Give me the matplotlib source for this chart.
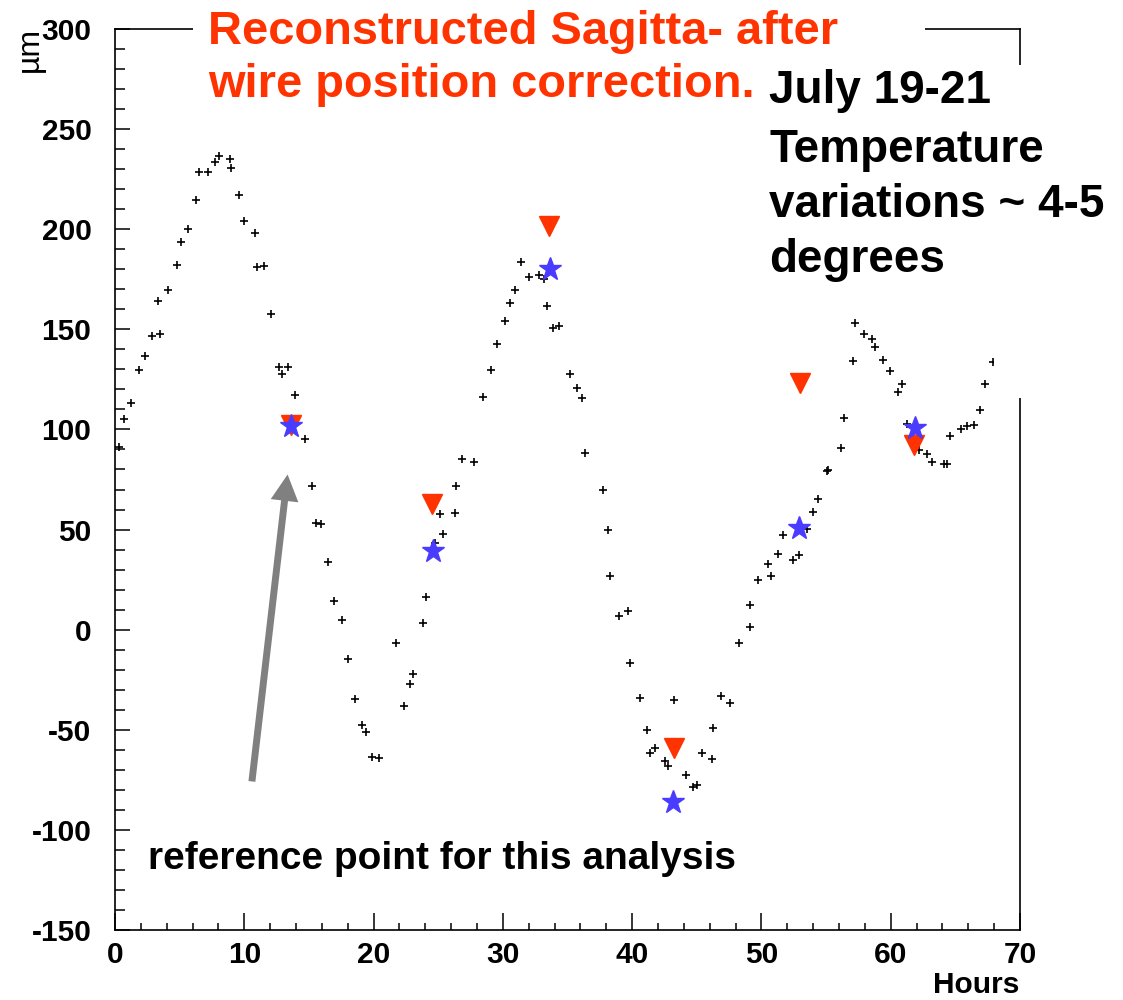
import matplotlib
matplotlib.use("Agg")
import matplotlib.pyplot as plt
from matplotlib.patches import Rectangle
from matplotlib.ticker import MultipleLocator

plt.rcParams['font.family'] = ['Liberation Sans', 'DejaVu Sans']
plt.rcParams['axes.unicode_minus'] = False

# measured sagitta (black crosses)
hours = [0.31, 0.72, 1.24, 1.88, 2.3, 2.89, 3.33, 3.49, 4.11, 4.83, 5.13, 5.68,
         6.3, 6.5, 7.17, 7.77, 8.06, 8.9, 8.98, 9.58, 9.99, 10.8, 10.95, 11.53,
         12.1, 12.7, 12.93, 13.4, 13.9, 14.66, 15.2, 15.56, 15.93, 16.5, 16.93,
         17.58, 18.02, 18.53, 19.1, 19.4, 19.87, 20.4, 21.7, 22.36, 22.8, 23.05,
         23.83, 24.09, 24.79, 25.17, 25.37, 26.26, 26.38, 26.85, 27.73, 28.45,
         29.07, 29.56, 30.18, 30.54, 30.93, 31.42, 31.99, 32.76, 33.17, 33.38,
         33.9, 34.36, 35.19, 35.73, 36.09, 36.38, 37.75, 38.15, 38.31, 38.98,
         39.7, 39.84, 40.64, 41.13, 41.39, 41.8, 42.52, 42.78, 43.27, 44.17,
         44.74, 45.05, 45.44, 46.19, 46.27, 46.86, 47.56, 48.28, 49.1, 49.13,
         49.75, 50.47, 50.73, 51.28, 51.69, 52.41, 52.9, 53.52, 53.96, 54.35,
         55.04, 55.12, 56.16, 56.39, 57.11, 57.22, 57.91, 58.53, 58.81, 59.38,
         59.92, 60.6, 60.91, 61.24, 62.22, 62.82, 63.23, 64.13, 64.39, 64.62,
         65.45, 65.92, 66.46, 66.92, 67.28, 67.93, 68.3]
sagitta = [91, 105, 113, 129.5, 136.7, 146.8, 164, 147.8, 169.7, 182.3, 193.5, 200,
           214.5, 228.5, 228.7, 233.5, 236.5, 235, 230.7, 217, 204, 198, 181, 181.7,
           157.8, 131.3, 127.5, 131.3, 117, 95, 72, 53.3, 52.7, 33.7, 14.2,
           4.7, -14.7, -34.5, -47.5, -51.3, -63.5, -64.2, -6.5, -38, -27.2, -22,
           3.2, 16.3, 43.3, 57.8, 48, 58.5, 72, 85.3, 83.7, 116.2,
           129.5, 142.8, 154, 163.3, 169.7, 183.5, 176.3, 177, 175.3, 161.5,
           150.7, 151.5, 127.8, 120.8, 115.5, 88.3, 69.7, 49.7, 26.7, 7,
           9.3, -16.7, -34.3, -50, -61.5, -59, -65.5, -68.2, -35.3, -72.8,
           -78.8, -77.5, -61.5, -64.8, -49.2, -33.2, -36.7, -6.8, 1.2, 12.5,
           25, 33, 26.8, 38, 47.3, 35, 37.5, 50.3, 59, 65.5,
           79.2, 79.5, 90.8, 105.8, 134, 153, 147.5, 145.2, 141.2, 134.5,
           129.2, 118.8, 122.8, 102.8, 89.7, 87.5, 83.5, 82.7, 82.7, 96.7,
           100, 101.5, 102.2, 109.7, 122.7, 133.5, 144.5]

# red triangles
tri_hours = [13.6, 24.5, 33.54, 43.25, 53.0, 61.83]
tri_vals = [102, 63, 201.7, -59.2, 123.3, 92.2]

# blue stars
star_hours = [13.63, 24.6, 33.62, 43.17, 52.88, 61.86]
star_vals = [101.7, 39.2, 180, -86.2, 50.7, 100.8]

W, H = 1123, 1000
fig = plt.figure(figsize=(W / 100, H / 100), dpi=100)
ax = fig.add_axes([115 / W, 70 / H, 905 / W, 901 / H])

ax.plot(hours, sagitta, linestyle='none', marker='+', ms=5.5, mew=1.2, color='black')
ax.plot(tri_hours, tri_vals, linestyle='none', marker='v', ms=14, color='#ff3300')
ax.plot(star_hours, star_vals, linestyle='none', marker='*', ms=17, color='#4a3cff')

ax.annotate('', xy=(13.35, 77.5), xytext=(10.59, -75.8),
            arrowprops=dict(width=5, headwidth=20, headlength=19, shrink=0,
                            color='#808080', lw=0))

ax.set_xlim(0, 70)
ax.set_ylim(-150, 300)
ax.xaxis.set_major_locator(MultipleLocator(10))
ax.xaxis.set_minor_locator(MultipleLocator(2))
ax.yaxis.set_major_locator(MultipleLocator(50))
ax.yaxis.set_minor_locator(MultipleLocator(10))
ax.tick_params(which='both', direction='in', top=False, right=False, width=1.1)
ax.tick_params(axis='y', which='major', length=11, pad=17, labelsize=21.5)
ax.tick_params(axis='y', which='minor', length=7)
ax.tick_params(axis='x', which='major', length=12, pad=8, labelsize=21.5)
ax.tick_params(axis='x', which='minor', length=5)
for lab in ax.get_xticklabels() + ax.get_yticklabels():
    lab.set_fontweight('bold')
for sp in ax.spines.values():
    sp.set_linewidth(1.2)

# white boxes of the overlaid slide text
fig.add_artist(Rectangle((193 / W, 1 - 45 / H), 732 / W, 45 / H,
                         transform=fig.transFigure, facecolor='white', edgecolor='none', zorder=5))
fig.add_artist(Rectangle((994 / W, 1 - 398 / H), 129 / W, 333 / H,
                         transform=fig.transFigure, facecolor='white', edgecolor='none', zorder=5))

fig.text(30 / W, 1 - 27 / H, 'µm', rotation=90, ha='center', va='top', fontsize=23, zorder=6)
fig.text(1019 / W, 1 - 993 / H, 'Hours', ha='right', va='baseline', fontsize=21.5,
         fontweight='bold', zorder=6)

red = '#ff3300'
fig.text(208 / W, 1 - 44 / H, 'Reconstructed Sagitta- after', color=red, fontsize=33.8,
         fontweight='bold', va='baseline', zorder=6)
fig.text(208 / W, 1 - 97 / H, 'wire position correction.', color=red, fontsize=33.8,
         fontweight='bold', va='baseline', zorder=6)

for txt, yb in zip(['July 19-21', 'Temperature', 'variations ~ 4-5', 'degrees'],
                   [103, 162, 217, 272]):
    fig.text(769 / W, 1 - yb / H, txt, fontsize=33, fontweight='bold', va='baseline', zorder=6)

fig.text(148 / W, 1 - 869 / H, 'reference point for this analysis', fontsize=28,
         fontweight='bold', va='baseline', zorder=6)

fig.savefig('out.png', dpi=100)
